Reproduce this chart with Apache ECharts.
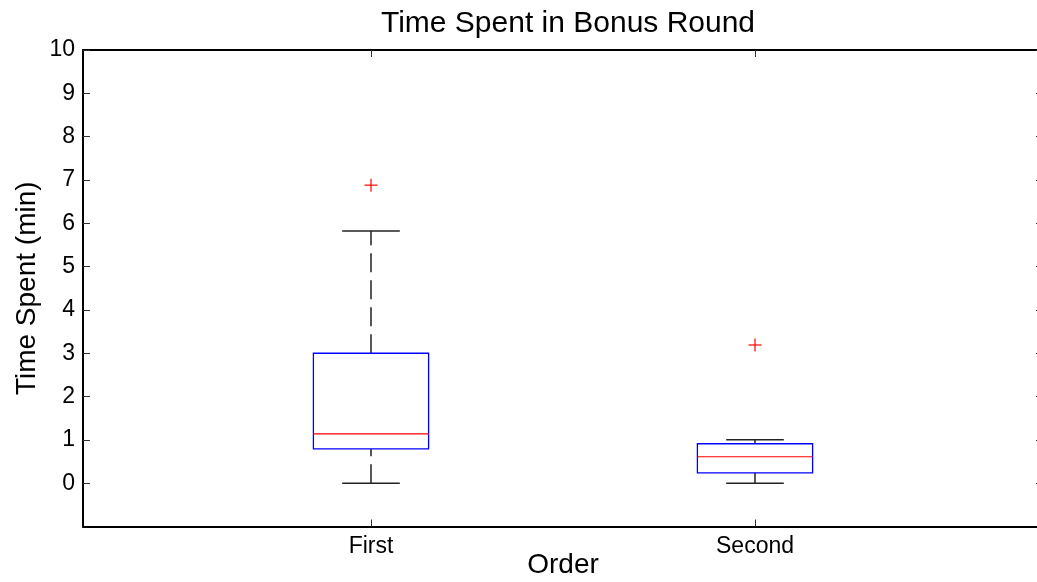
<!DOCTYPE html>
<html>
<head>
<meta charset="utf-8">
<script src="https://cdn.jsdelivr.net/npm/echarts@6/dist/echarts.min.js"></script>
<style>html,body{margin:0;padding:0;background:#fff;}#c{width:1037px;height:582px;}</style>
</head>
<body>
<div id="c"></div>
<script>
const categories = ['First', 'Second'];
const categoryPos = [1, 2];
const lowerWhisker = [0, 0];
const q1 = [0.79, 0.24];
const median = [1.14, 0.61];
const q3 = [3.0, 0.91];
const upperWhisker = [5.82, 1.0];
const outlierPos = [1, 2];
const outlierValues = [6.88, 3.19];
const yTickValues = [0, 1, 2, 3, 4, 5, 6, 7, 8, 9, 10];

const FONT = '"Liberation Sans", Arial, Helvetica, sans-serif';
const boxData = categoryPos.map((x, i) => [x, lowerWhisker[i], q1[i], median[i], q3[i], upperWhisker[i]]);
const outData = outlierPos.map((x, i) => [x, outlierValues[i]]);

const chart = echarts.init(document.getElementById('c'), null, {renderer: 'canvas'});

function renderBox(params, api) {
  const x = api.value(0);
  const pLow = api.coord([x, api.value(1)]);
  const pQ1 = api.coord([x, api.value(2)]);
  const pMed = api.coord([x, api.value(3)]);
  const pQ3 = api.coord([x, api.value(4)]);
  const pHigh = api.coord([x, api.value(5)]);
  const boxW = api.size([0.3, 0])[0];
  const capW = api.size([0.15, 0])[0];
  const cx = pMed[0];
  const wStyle = {stroke: '#222', lineWidth: 1.5, lineDash: [19, 8]};
  const capStyle = {stroke: '#222', lineWidth: 1.5};
  return {
    type: 'group',
    children: [
      {type: 'line', shape: {x1: cx, y1: pLow[1], x2: cx, y2: pQ1[1]}, style: wStyle},
      {type: 'line', shape: {x1: cx, y1: pQ3[1], x2: cx, y2: pHigh[1]}, style: wStyle},
      {type: 'line', shape: {x1: cx - capW / 2, y1: pLow[1], x2: cx + capW / 2, y2: pLow[1]}, style: capStyle},
      {type: 'line', shape: {x1: cx - capW / 2, y1: pHigh[1], x2: cx + capW / 2, y2: pHigh[1]}, style: capStyle},
      {type: 'rect', shape: {x: cx - boxW / 2, y: pQ3[1], width: boxW, height: pQ1[1] - pQ3[1]},
        style: {fill: 'none', stroke: '#0000ff', lineWidth: 1.3}},
      {type: 'line', shape: {x1: cx - boxW / 2, y1: pMed[1], x2: cx + boxW / 2, y2: pMed[1]},
        style: {stroke: '#ff0000', lineWidth: 1.2}}
    ]
  };
}

function renderPlus(params, api) {
  const p = api.coord([api.value(0), api.value(1)]);
  const h = 6.5;
  const st = {stroke: '#ff0000', lineWidth: 1.2};
  return {
    type: 'group',
    children: [
      {type: 'line', shape: {x1: p[0] - h, y1: p[1], x2: p[0] + h, y2: p[1]}, style: st},
      {type: 'line', shape: {x1: p[0], y1: p[1] - h, x2: p[0], y2: p[1] + h}, style: st}
    ]
  };
}

const xCommon = {
  type: 'value', min: 0.25, max: 2.75,
  splitLine: {show: false},
  axisLine: {show: true, onZero: false, lineStyle: {color: '#000', width: 2}},
  axisTick: {show: true, inside: true, length: 7, customValues: categoryPos, lineStyle: {color: '#333', width: 1}}
};
const yCommon = {
  type: 'value', min: -1, max: 10, interval: 1,
  splitLine: {show: false},
  axisLine: {show: true, onZero: false, lineStyle: {color: '#000', width: 2}},
  axisTick: {show: true, inside: true, length: 7, customValues: yTickValues, lineStyle: {color: '#333', width: 1}}
};

chart.setOption({
  animation: false,
  backgroundColor: '#fff',
  title: {
    text: 'Time Spent in Bonus Round',
    left: 563, top: 4, textAlign: 'center',
    textStyle: {fontFamily: FONT, fontSize: 30, fontWeight: 'normal', color: '#000'}
  },
  grid: {left: 83, top: 50, width: 960, height: 476.5, containLabel: false, outerBoundsMode: 'none'},
  xAxis: [
    Object.assign({}, xCommon, {
      position: 'bottom',
      name: 'Order', nameLocation: 'middle', nameGap: 25, nameMoveOverlap: false,
      nameTextStyle: {fontFamily: FONT, fontSize: 28, color: '#000', verticalAlign: 'top'},
      axisLabel: {show: true, customValues: categoryPos, margin: 9,
        fontFamily: FONT, fontSize: 23, color: '#000',
        formatter: v => categories[categoryPos.indexOf(v)] || ''}
    }),
    Object.assign({}, xCommon, {position: 'top', axisLabel: {show: false}})
  ],
  yAxis: [
    Object.assign({}, yCommon, {
      position: 'left',
      name: 'Time Spent (min)', nameLocation: 'middle', nameGap: 42, nameMoveOverlap: false,
      nameTextStyle: {fontFamily: FONT, fontSize: 28, color: '#000'},
      axisLabel: {show: true, customValues: yTickValues, margin: 8,
        fontFamily: FONT, fontSize: 23, color: '#000'}
    }),
    Object.assign({}, yCommon, {position: 'right', axisLabel: {show: false}})
  ],
  series: [
    {type: 'custom', xAxisIndex: 0, yAxisIndex: 0, renderItem: renderBox, data: boxData,
      encode: {x: 0, y: [1, 2, 3, 4, 5]}, silent: true, clip: false},
    {type: 'custom', xAxisIndex: 0, yAxisIndex: 0, renderItem: renderPlus, data: outData,
      encode: {x: 0, y: 1}, silent: true}
  ]
});
</script>
</body>
</html>
